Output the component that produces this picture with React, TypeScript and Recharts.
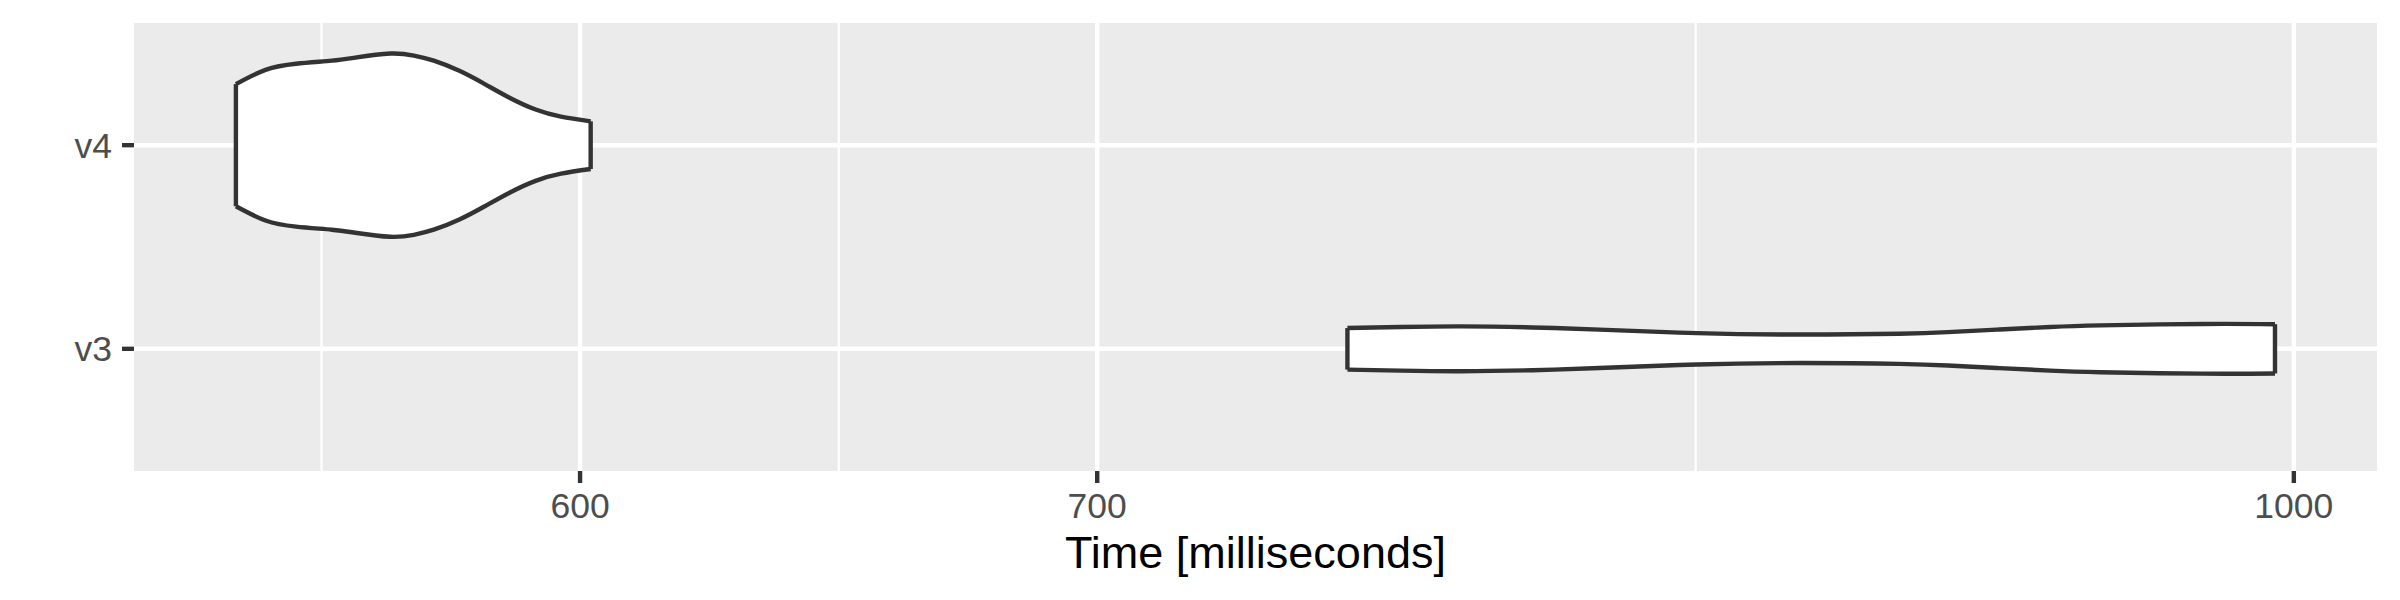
import { ComposedChart, Area, XAxis, YAxis, CartesianGrid, ReferenceLine } from "recharts";

// categories on the y axis (bottom to top)
const categories = ["v3", "v4"];

// v3 violin: time (ms) and half-width of the density outline
const v3Time = [754.2, 766.2, 780, 797, 813, 837, 863, 889, 902, 916, 930, 944, 973, 994.4];
const v3Half = [0.102, 0.107, 0.11, 0.105, 0.094, 0.077, 0.07, 0.074, 0.082, 0.095, 0.107, 0.115, 0.122, 0.121];

// v4 violin
const v4Time = [541.5, 546.3, 551.3, 557.2, 561.1, 567.0, 571.0, 574.4, 578.8, 583.2, 587.6, 592.1, 596.6, 601.9];
const v4Half = [0.3, 0.37, 0.4, 0.415, 0.43, 0.45, 0.44, 0.415, 0.365, 0.3, 0.232, 0.175, 0.14, 0.117];

// axis ticks (log scale)
const xTicks = [600, 700, 1000];
const xMinorTicks = [555.5, 648.1, 836.7];
const xDomain = [525.3, 1025.1];

const FONT = "'Liberation Sans', Arial, Helvetica, sans-serif";
const OUTLINE = "#333333";

const pos = (name: string) => categories.indexOf(name) + 1;

const violins = [
  { key: "v4", time: v4Time, half: v4Half },
  { key: "v3", time: v3Time, half: v3Half },
];

// one row per sampled time, holding the [low, high] band of its violin
const rows = violins.flatMap((v) =>
  v.time.map((t, i) => ({ time: t, [v.key]: [pos(v.key) - v.half[i], pos(v.key) + v.half[i]] }))
);

export default function App() {
  return (
    <div style={{ position: "absolute", left: 0, top: 0, background: "#fff" }}>
      <ComposedChart
        width={2400}
        height={600}
        data={rows}
        margin={{ top: 23, right: 23, left: 0, bottom: 0 }}
        style={{ fontFamily: FONT }}
      >
        {/* panel + major grid */}
        <CartesianGrid fill="#EBEBEB" stroke="#FFFFFF" strokeWidth={4.4} horizontalValues={[1, 2]} verticalValues={xTicks} />
        {/* minor grid */}
        <CartesianGrid horizontal={false} stroke="#FFFFFF" strokeWidth={2.2} verticalValues={xMinorTicks} />

        <XAxis
          dataKey="time"
          type="number"
          scale="log"
          domain={xDomain}
          allowDataOverflow
          ticks={xTicks}
          height={129}
          axisLine={false}
          tickSize={12}
          tickMargin={10}
          tickLine={{ stroke: OUTLINE, strokeWidth: 4.4 }}
          tick={{ fontSize: 35.5, fill: "#4D4D4D", fontFamily: FONT }}
          label={{ value: "Time [milliseconds]", position: "insideBottom", offset: 32, fill: "#000000", fontSize: 45, fontFamily: FONT }}
        />
        <YAxis
          type="number"
          domain={[0.4, 2.6]}
          allowDataOverflow
          ticks={categories.map(pos)}
          tickFormatter={(v: number) => categories[v - 1]}
          width={134}
          axisLine={false}
          tickSize={12}
          tickMargin={10}
          tickLine={{ stroke: OUTLINE, strokeWidth: 4.4 }}
          tick={{ fontSize: 35.5, fill: "#4D4D4D", fontFamily: FONT }}
        />

        {violins.map((v) => (
          <Area
            key={v.key}
            dataKey={v.key}
            type="natural"
            stroke={OUTLINE}
            strokeWidth={4.4}
            fill="#FFFFFF"
            fillOpacity={1}
            dot={false}
            activeDot={false}
            isAnimationActive={false}
          />
        ))}

        {/* closed ends of each violin */}
        {violins.flatMap((v) =>
          [0, v.time.length - 1].map((i) => (
            <ReferenceLine
              key={`${v.key}-${i}`}
              segment={[
                { x: v.time[i], y: pos(v.key) - v.half[i] },
                { x: v.time[i], y: pos(v.key) + v.half[i] },
              ]}
              stroke={OUTLINE}
              strokeWidth={4.4}
            />
          ))
        )}
      </ComposedChart>
    </div>
  );
}
